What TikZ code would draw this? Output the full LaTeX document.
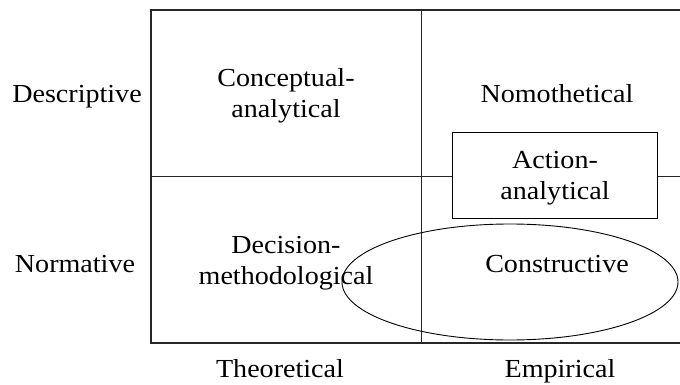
\documentclass[tikz,border=0pt]{standalone}
\usepackage{fontspec}
\setmainfont[FakeStretch=1.08]{Liberation Serif}
\begin{document}
\begin{tikzpicture}[x=1pt,y=-1pt,
  grid/.style={line width=0.9pt,draw=black!85},
  outer/.style={line width=1.3pt,draw=black!85},
  lbl/.style={font=\fontsize{26}{31}\selectfont,align=center,inner sep=0pt},
  onbase/.style={lbl,anchor=base},
  abox/.style={draw=black,line width=0.9pt,fill=white,minimum width=205pt,minimum height=86pt,inner sep=0pt}]
\useasboundingbox (0,0) rectangle (680,385);
% matrix frame (open to the right)
\coordinate (tl) at (151,10);
\coordinate (bl) at (151,343);
\coordinate (tr) at (680,10);
\coordinate (br) at (680,343);
\coordinate (mt) at (421,10);
\coordinate (mb) at (421,343);
\coordinate (ml) at (151,176);
\coordinate (mr) at (680,176);
\draw[outer] (tr) -- (tl) -- (bl) -- (br);
\draw[grid] (mt) -- (mb);
\draw[grid] (ml) -- (mr);
% overlapping categories
\node[abox] (act) at (555,175) {};
\node[lbl] (actl) at (555,178) {Action-\\analytical};
\draw[line width=0.9pt] (510,282) ellipse (168 and 58);
% row and column headings
\node[onbase] (desc) at (77,103) {Descriptive};
\node[onbase] (norm) at (75,272) {Normative};
\node[onbase] (theo) at (280,377) {Theoretical};
\node[onbase] (emp) at (560,377) {Empirical};
% cell labels
\node[lbl] (conc) at (286,96) {Conceptual-\\analytical};
\node[onbase] (nomo) at (557,103) {Nomothetical};
\node[lbl] (deci) at (286,263) {Decision-\\methodological};
\node[onbase] (cons) at (557,272) {Constructive};
\end{tikzpicture}
\end{document}
